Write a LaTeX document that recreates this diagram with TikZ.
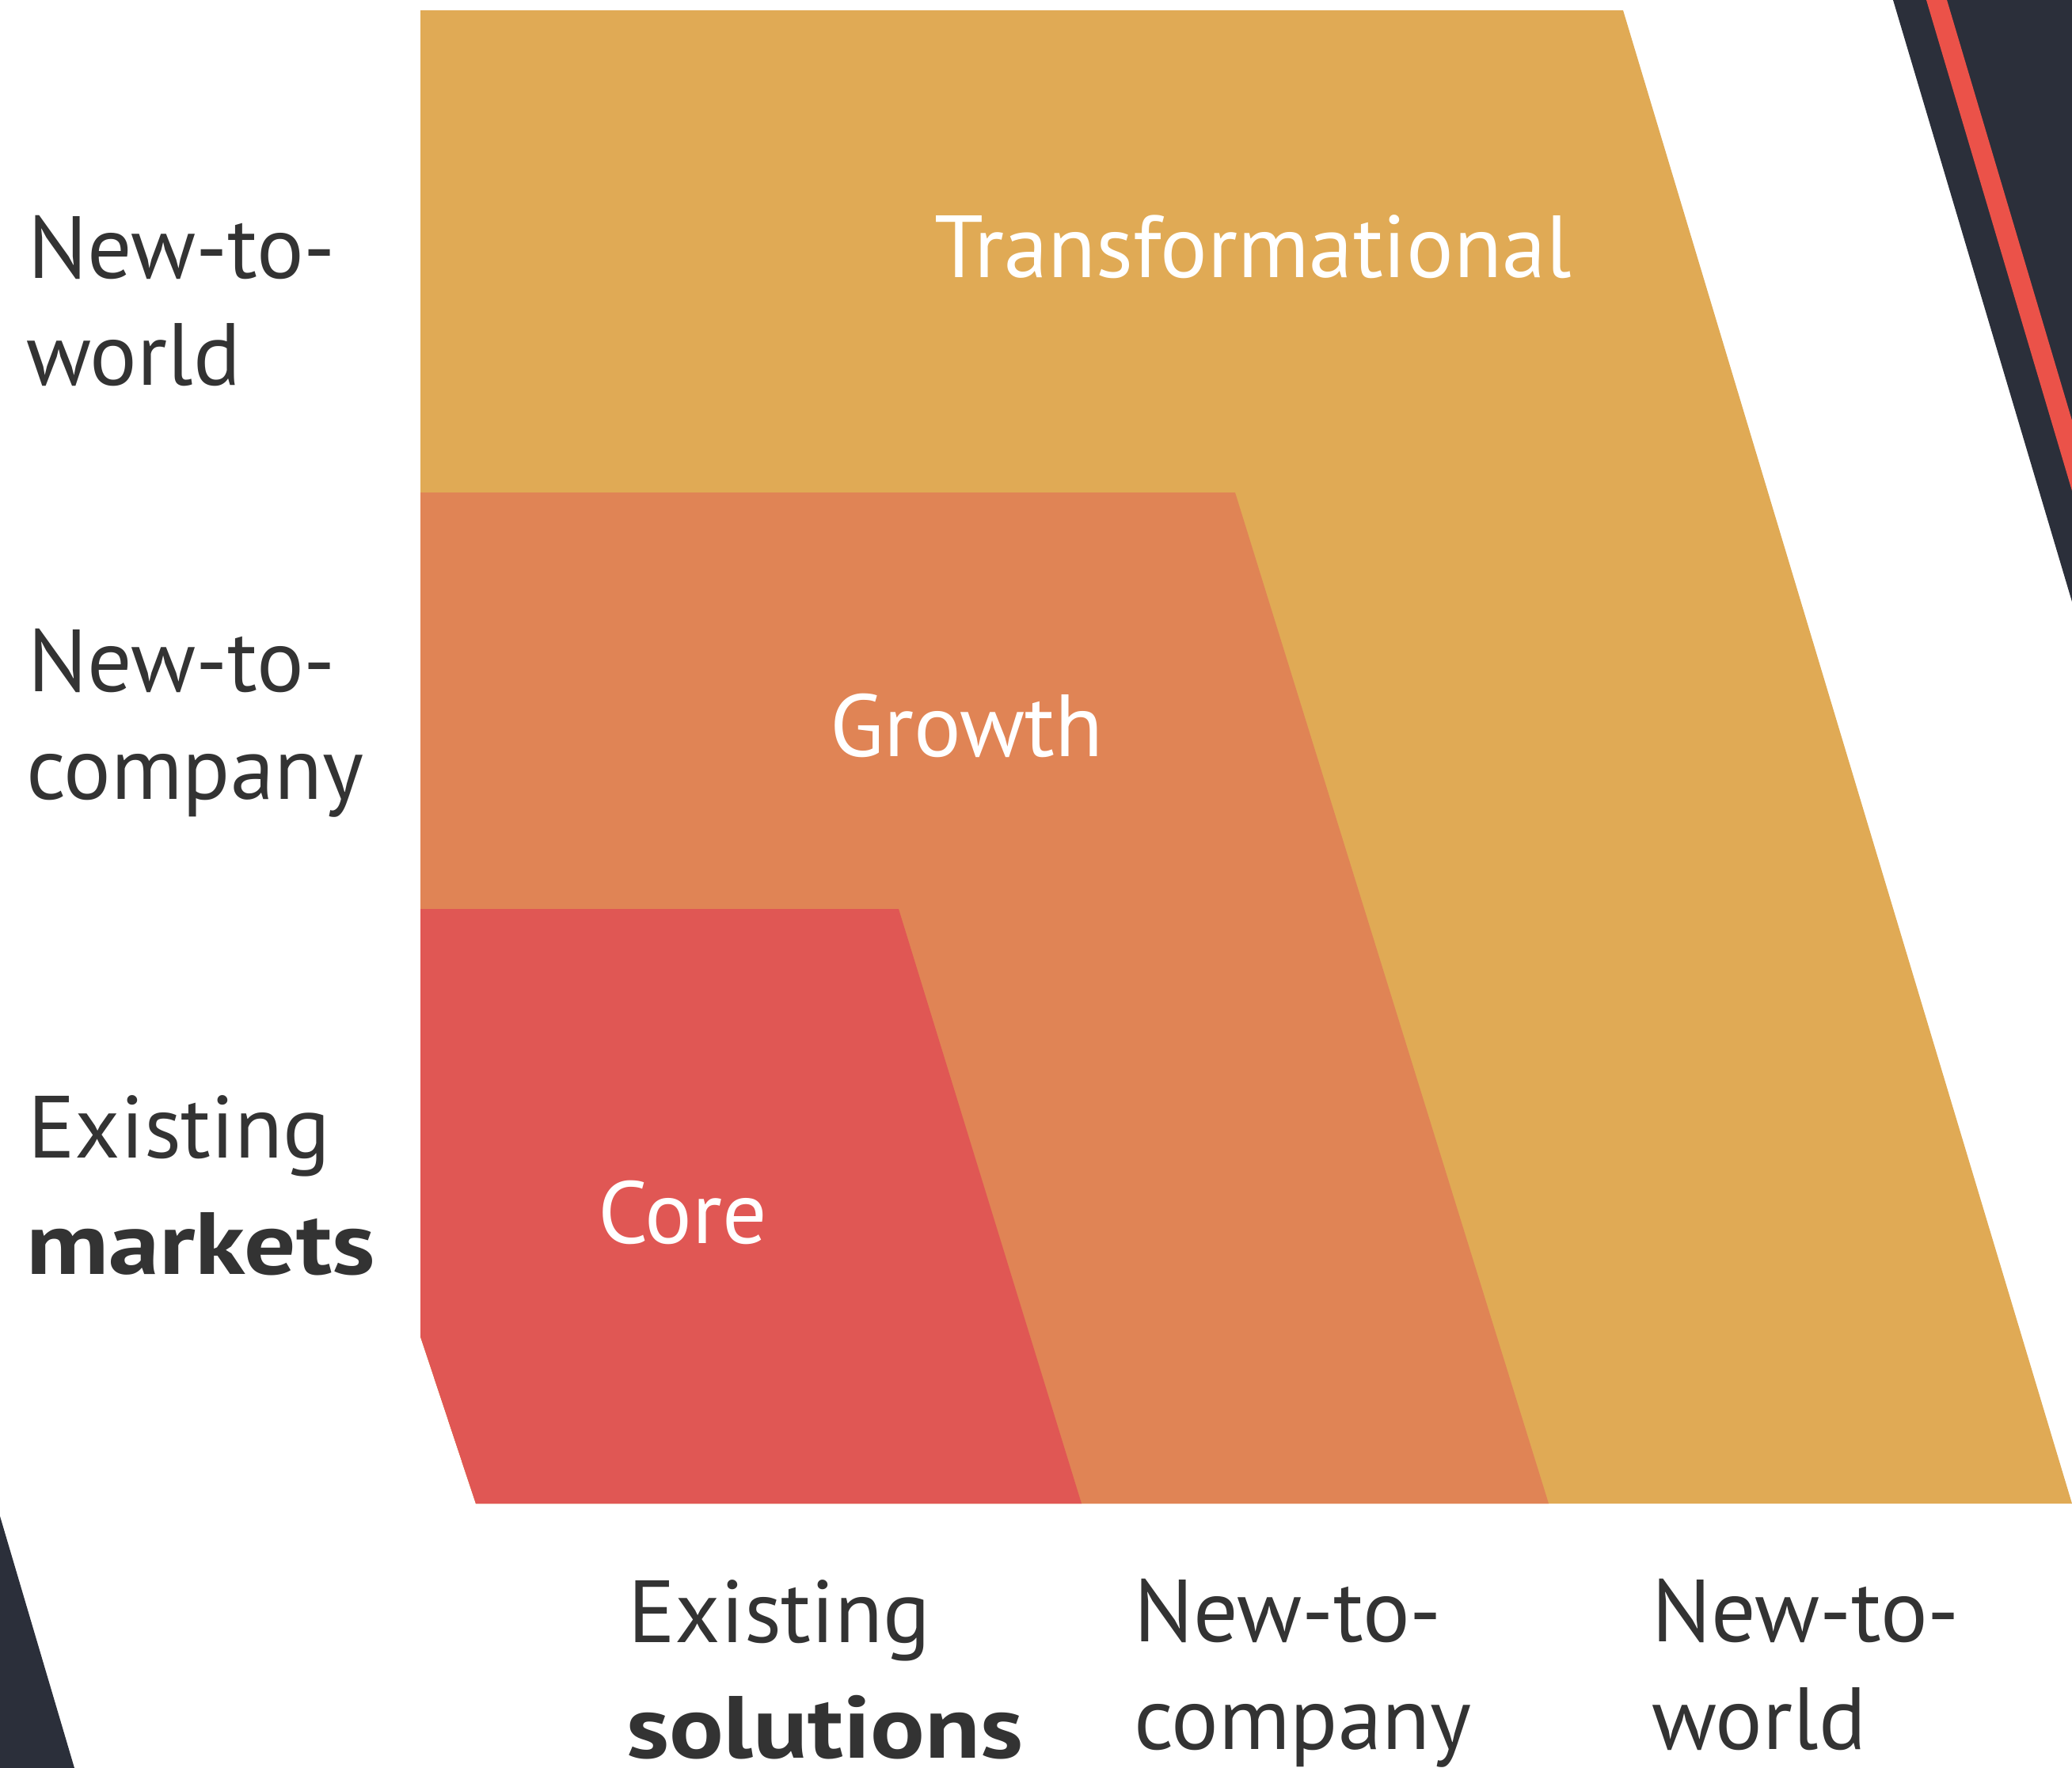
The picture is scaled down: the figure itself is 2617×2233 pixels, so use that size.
\documentclass[tikz,border=0pt]{standalone}
\usepackage{fontspec}
\usepackage{graphicx}
\setmainfont{PT Sans}
\definecolor{cyellow}{HTML}{E0AA55}
\definecolor{corange}{HTML}{E08455}
\definecolor{cred}{HTML}{E05754}
\definecolor{cdark}{HTML}{2B2F3A}
\definecolor{cstripe}{HTML}{EB5249}
\definecolor{ctext}{HTML}{333333}
\tikzset{
  lbl/.style={anchor=base west, inner sep=0pt, outer sep=0pt, text=ctext, font=\fontsize{31.7pt}{36pt}\selectfont},
  inlbl/.style={anchor=base west, inner sep=0pt, outer sep=0pt, text=white, font=\fontsize{31.7pt}{36pt}\selectfont},
}
\begin{document}
\begin{tikzpicture}[x=0.01cm, y=-0.01cm]
\useasboundingbox (0,0) rectangle (2617,2233);
\fill[white] (0,0) rectangle (2617,2233);
% decorative dark shapes
\fill[cdark] (2391,0) -- (2617,0) -- (2617,760) -- cycle;
\fill[cstripe] (2433,0) -- (2459,0) -- (2617,531) -- (2617,620) -- cycle;
\fill[cdark] (0,1915) -- (94,2233) -- (0,2233) -- cycle;
% layers
\fill[cyellow] (531,13) -- (2050,13) -- (2617,1899) -- (601,1899) -- (531,1688) -- cycle;
\fill[corange] (531,622) -- (1560,622) -- (1956,1899) -- (601,1899) -- (531,1688) -- cycle;
\fill[cred] (531,1148) -- (1135,1148) -- (1366,1899) -- (601,1899) -- (531,1688) -- cycle;
% inner labels
\node[inlbl] (tr) at (1180,350) {Transformational};
\node[inlbl] (gr) at (1048,955) {Growth};
\node[inlbl] (co) at (755,1570) {Core};
% left labels
\node[lbl] (l1a) at (35,351) {New-to-};
\node[lbl] (l1b) at (33,486) {world};
\node[lbl] (l2a) at (35,873) {New-to-};
\node[lbl] (l2b) at (33,1009) {company};
\node[lbl] (l3a) at (35,1462) {Existing};
\node[lbl] (l3b) at (33,1609) {\scalebox{1.16}[1]{\bfseries markets}};
% bottom labels
\node[lbl] (b1a) at (793,2074) {Existing};
\node[lbl] (b1b) at (791,2220) {\scalebox{1.15}[1]{\bfseries solutions}};
\node[lbl] (b2a) at (1432,2073) {New-to-};
\node[lbl] (b2b) at (1432,2209) {company};
\node[lbl] (b3a) at (2086,2073) {New-to-};
\node[lbl] (b3b) at (2086,2209) {world};
\end{tikzpicture}
\end{document}
